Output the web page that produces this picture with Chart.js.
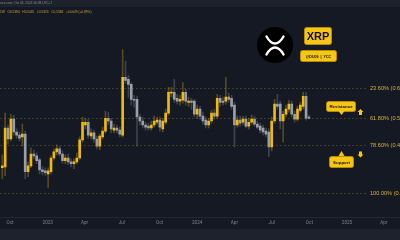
<!DOCTYPE html>
<html>
<head>
<meta charset="utf-8">
<script src="https://cdn.jsdelivr.net/npm/chart.js@4.4.1/dist/chart.umd.min.js"></script>
<style>
  html, body { margin: 0; padding: 0; background: #151924; overflow: hidden; }
  #wrap { width: 400px; height: 240px; }
</style>
</head>
<body>
<div id="wrap"><canvas id="c" width="400" height="240"></canvas></div>
<script>
// XRP/USDT weekly candles, first candle = week of 12 Sep 2022
const START = Date.UTC(2022, 8, 12);
const WEEK = 7 * 864e5;

const OPEN = [
  .386, .389, .516, .480, .545, .503, .493, .487, .496, .373,
  .392, .431, .425, .412, .379, .376, .366, .373, .418, .438,
  .448, .431, .409, .418, .405, .399, .405, .418, .477, .526,
  .535, .490, .500, .480, .457, .487, .506, .548, .539, .509,
  .516, .509, .493, .682, .675, .659, .610, .610, .552, .539,
  .526, .522, .516, .526, .535, .542, .513, .535, .565, .630,
  .633, .613, .604, .607, .633, .600, .604, .604, .561, .578,
  .555, .542, .526, .539, .565, .555, .613, .604, .604, .617,
  .613, .591, .526, .542, .535, .545, .522, .535, .545, .529,
  .522, .516, .506, .503, .454, .539, .594, .594, .539, .561,
  .578, .594, .561, .545, .574, .587, .620, .552,
];
const HIGH = [
  .428, .565, .526, .561, .558, .513, .503, .529, .506, .405,
  .451, .444, .435, .418, .389, .386, .386, .425, .448, .461,
  .457, .441, .428, .431, .415, .415, .435, .487, .552, .548,
  .545, .513, .509, .490, .496, .519, .571, .568, .548, .529,
  .526, .519, .773, .734, .688, .665, .623, .620, .561, .552,
  .535, .532, .539, .555, .552, .552, .548, .578, .649, .649,
  .675, .626, .623, .665, .643, .617, .613, .610, .591, .587,
  .568, .552, .548, .574, .578, .626, .623, .617, .682, .630,
  .623, .600, .555, .555, .555, .555, .548, .558, .555, .539,
  .532, .526, .516, .513, .552, .610, .626, .604, .571, .591,
  .607, .604, .571, .587, .600, .633, .633, .558,
];
const LOW = [
  .350, .360, .464, .474, .493, .483, .474, .457, .350, .357,
  .386, .415, .399, .366, .363, .360, .321, .366, .412, .428,
  .425, .402, .399, .396, .389, .383, .399, .412, .470, .513,
  .483, .480, .470, .448, .444, .480, .500, .529, .500, .500,
  .500, .487, .487, .662, .617, .591, .584, .457, .526, .516,
  .509, .509, .509, .519, .529, .506, .503, .529, .558, .617,
  .600, .594, .591, .597, .591, .587, .578, .552, .548, .545,
  .529, .516, .516, .532, .545, .548, .587, .591, .594, .600,
  .578, .454, .519, .522, .526, .516, .513, .529, .522, .513,
  .500, .493, .487, .422, .441, .532, .578, .513, .470, .552,
  .568, .552, .535, .539, .568, .578, .542, .545,
];
const CLOSE = [
  .392, .516, .480, .545, .503, .493, .483, .496, .373, .392,
  .431, .425, .409, .379, .373, .370, .376, .418, .438, .448,
  .431, .409, .418, .405, .399, .405, .418, .477, .535, .535,
  .493, .500, .480, .457, .490, .506, .548, .539, .513, .516,
  .509, .496, .682, .672, .659, .610, .607, .552, .539, .526,
  .519, .516, .526, .539, .542, .519, .539, .565, .633, .633,
  .610, .604, .610, .633, .604, .604, .600, .561, .578, .555,
  .539, .526, .539, .565, .555, .613, .600, .600, .617, .610,
  .587, .526, .542, .532, .545, .522, .535, .545, .529, .519,
  .509, .503, .496, .454, .539, .594, .587, .539, .561, .578,
  .594, .561, .545, .578, .591, .620, .548, .548,
];

// tick labels: quarter starts (year, month index)
const TICK_LABELS = ["Oct", "2023", "Apr", "Jul", "Oct", "2024", "Apr", "Jul", "Oct", "2025", "Apr"];
const TICK_MONTHS = [[2022, 9], [2023, 0], [2023, 3], [2023, 6], [2023, 9], [2024, 0],
                     [2024, 3], [2024, 6], [2024, 9], [2025, 0], [2025, 3]];

// fibonacci retracement levels
const FIB_LEVELS = ["23.60%", "61.80%", "78.60%", "100.00%"];
const FIB_PRICES = [0.6458, 0.5480, 0.4605, 0.3045];

const HEADER_1 = "Binance.com, Oct 05, 2024 16:38 UTC+7";
const HEADER_2 = "1W   O0.5384   H0.5445   L0.5323   C0.5384   +0.0049 (+0.89%)";

const YELLOW = "#f0b90b";
const GREY = "#9a9ea8";

const tickPos = TICK_MONTHS.map(([y, m]) => (Date.UTC(y, m, 1) - START) / WEEK);
const up = OPEN.map((o, i) => CLOSE[i] >= o);
const bodyCol = up.map(u => u ? YELLOW : GREY);
const wickCol = up.map(u => u ? "rgba(240,185,11,0.3)" : "rgba(154,158,168,0.3)");

// ------- deco: background, fib lines, labels, logo -----------------------
function badge(ctx, x, y, w, h, text, font) {
  ctx.fillStyle = "#f5c518";
  ctx.strokeStyle = "#b88a00";
  ctx.lineWidth = 1;
  ctx.beginPath(); ctx.roundRect(x + .5, y + .5, w, h, 2); ctx.fill(); ctx.stroke();
  ctx.fillStyle = "#111";
  ctx.font = font;
  ctx.textAlign = "center"; ctx.textBaseline = "middle";
  ctx.fillText(text, x + w / 2 + .5, y + h / 2 + 1);
}

const deco = {
  id: "deco",
  beforeDraw(chart) {
    const { ctx, width, height } = chart;
    ctx.save();
    ctx.fillStyle = "#151924"; ctx.fillRect(0, 0, width, height);
    ctx.fillStyle = "#1e222d";
    ctx.fillRect(0, 0, width, 7);
    ctx.fillRect(0, 229, width, height - 229);
    ctx.restore();
  },
  beforeDatasetsDraw(chart) {
    const { ctx, scales: { y } } = chart;
    ctx.save();
    ctx.setLineDash([2, 2]);
    ctx.lineWidth = 1;
    ctx.strokeStyle = "rgba(170,145,50,0.28)";
    FIB_PRICES.forEach(p => {
      const py = Math.round(y.getPixelForValue(p)) + .5;
      ctx.beginPath(); ctx.moveTo(0, py); ctx.lineTo(367, py); ctx.stroke();
    });
    ctx.restore();
  },
  afterDraw(chart) {
    const { ctx, scales: { y } } = chart;
    ctx.save();
    // header
    ctx.textBaseline = "middle"; ctx.textAlign = "left";
    ctx.font = "3.2px 'Liberation Sans'";
    ctx.fillStyle = "#8b8f99"; ctx.fillText(HEADER_1, -6, 3.5);
    ctx.fillStyle = "#c9a030"; ctx.fillText(HEADER_2, 0, 12);

    // fib labels
    ctx.font = "5.6px 'Liberation Sans'";
    ctx.fillStyle = "#d9b032";
    FIB_PRICES.forEach((p, i) => {
      ctx.fillText(FIB_LEVELS[i] + " (" + p.toFixed(4) + ")", 370, y.getPixelForValue(p) + .5);
    });

    // XRP logo
    ctx.fillStyle = "#000";
    ctx.beginPath(); ctx.arc(275, 45, 18, 0, Math.PI * 2); ctx.fill();
    ctx.strokeStyle = "#fff"; ctx.lineWidth = 2.4; ctx.lineCap = "round";
    ctx.beginPath();
    ctx.moveTo(266.5, 36.5); ctx.quadraticCurveTo(270.5, 43.5, 275, 43.5);
    ctx.quadraticCurveTo(279.5, 43.5, 283.5, 36.5);
    ctx.moveTo(266.5, 54.5); ctx.quadraticCurveTo(270.5, 47.5, 275, 47.5);
    ctx.quadraticCurveTo(279.5, 47.5, 283.5, 54.5);
    ctx.stroke();

    badge(ctx, 304, 27, 27, 17, "XRP", "bold 11px 'Liberation Sans'");
    badge(ctx, 300, 50, 36, 11, "@DU09  |  YCC", "bold 3.6px 'Liberation Sans'");

    // resistance / support callouts
    badge(ctx, 326, 101, 29, 10, "Resistance", "bold 4.4px 'Liberation Sans'");
    badge(ctx, 329, 156, 24, 11, "Support", "bold 4.4px 'Liberation Sans'");
    ctx.fillStyle = "#f5c518";
    ctx.beginPath(); ctx.moveTo(338.5, 111); ctx.lineTo(344.5, 111); ctx.lineTo(341.5, 115); ctx.fill();
    ctx.beginPath(); ctx.moveTo(338.5, 156); ctx.lineTo(344.5, 156); ctx.lineTo(341.5, 151); ctx.fill();
    // arrows
    ctx.beginPath();
    ctx.moveTo(360.5, 109); ctx.lineTo(363.5, 112); ctx.lineTo(362, 112); ctx.lineTo(362, 115);
    ctx.lineTo(359, 115); ctx.lineTo(359, 112); ctx.lineTo(357.5, 112); ctx.closePath(); ctx.fill();
    ctx.beginPath();
    ctx.moveTo(360.5, 157.5); ctx.lineTo(363.5, 154.5); ctx.lineTo(362, 154.5); ctx.lineTo(362, 151.5);
    ctx.lineTo(359, 151.5); ctx.lineTo(359, 154.5); ctx.lineTo(357.5, 154.5); ctx.closePath(); ctx.fill();
    ctx.restore();
  },
};

new Chart(document.getElementById("c"), {
  type: "bar",
  data: {
    datasets: [
      { // bodies
        data: OPEN.map((o, i) => ({ x: i, y: [o, CLOSE[i]] })),
        backgroundColor: bodyCol, barThickness: 2, minBarLength: 1,
        borderWidth: 0, grouped: false, order: 0,
      },
      { // wicks
        data: LOW.map((l, i) => ({ x: i, y: [l, HIGH[i]] })),
        backgroundColor: wickCol, barThickness: 1,
        borderWidth: 0, grouped: false, order: 1,
      },
    ],
  },
  options: {
    responsive: false, animation: false, devicePixelRatio: 1,
    layout: { padding: { left: 0, right: 0, top: 0, bottom: 11 } },
    plugins: { legend: { display: false }, tooltip: { enabled: false } },
    scales: {
      x: {
        type: "linear", min: -0.8, max: 138.77, offset: false,
        grid: { display: false, drawTicks: false },
        border: { display: true, color: "#232732" },
        afterBuildTicks: s => { s.ticks = tickPos.map(v => ({ value: v })); },
        ticks: {
          autoSkip: false, maxRotation: 0, padding: 3,
          color: "#7d818b", font: { size: 4.6, family: "Roboto" },
          callback: (v, i) => TICK_LABELS[i],
        },
      },
      y: { display: false, min: 0.22325, max: 0.935 },
    },
  },
  plugins: [deco],
});
</script>
</body>
</html>
